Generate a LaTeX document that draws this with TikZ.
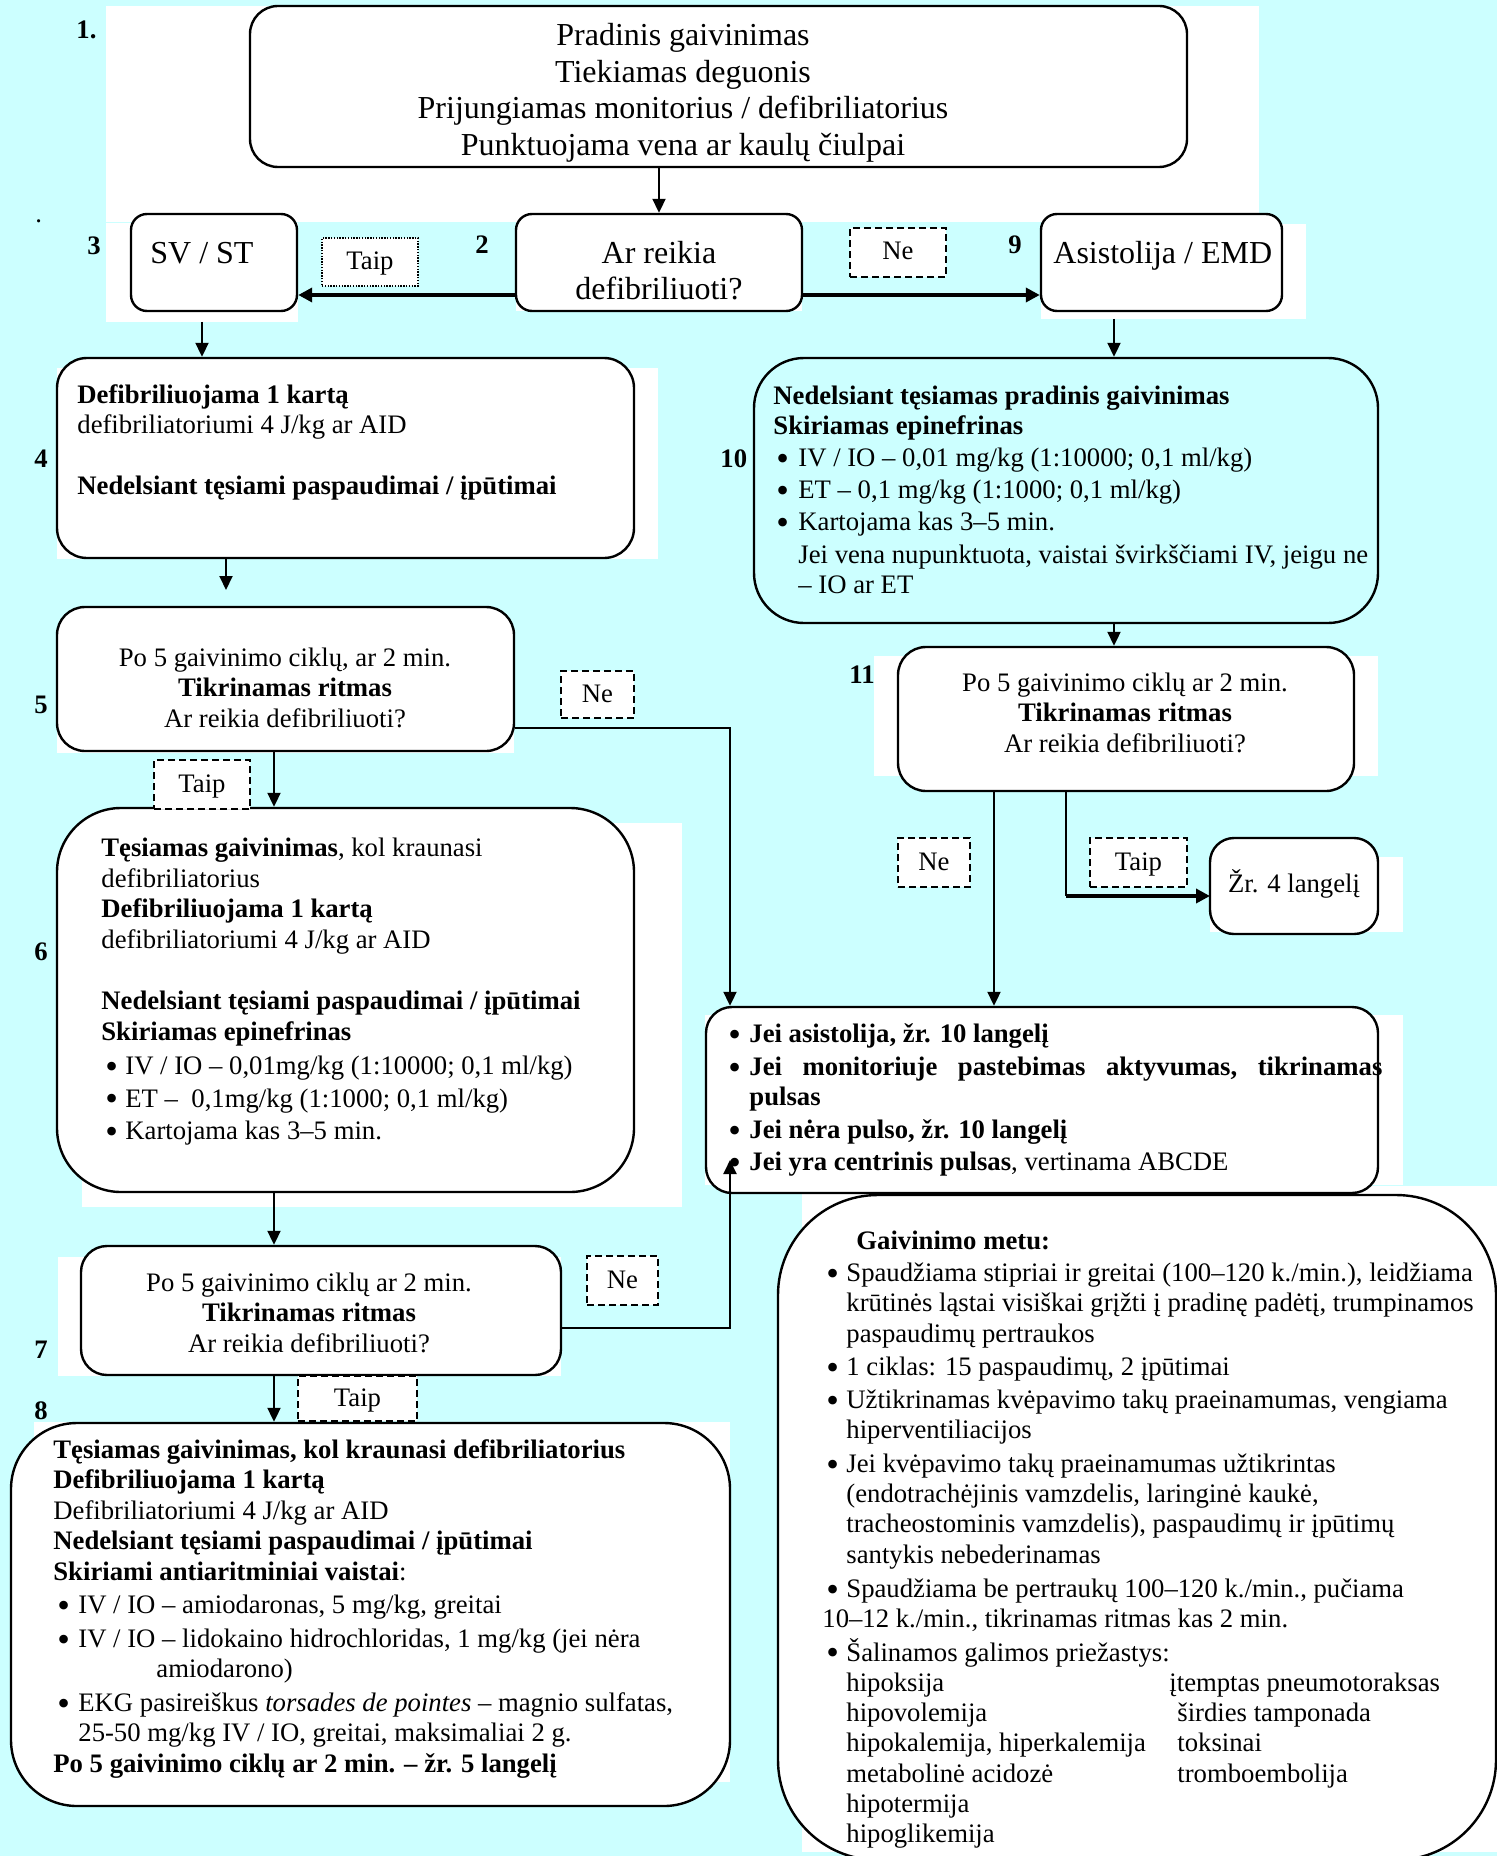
\documentclass[tikz,border=0pt]{standalone}
\usepackage{fontspec}
\setmainfont{Liberation Serif}
\usetikzlibrary{arrows.meta}
\definecolor{bgc}{RGB}{204,255,255}
\newdimen\pxu \pxu=0.5pt
\newcommand\bigbullet{{\fontsize{18pt}{18pt}\selectfont\raisebox{-1.9pt}{•}}}
\newcommand\bul[2]{\hspace*{#1\pxu}\makebox[#2\pxu][l]{\bigbullet}}
\lineskiplimit=-100pt
\begin{document}
\begin{tikzpicture}[x=0.5pt,y=-0.5pt,
  box/.style={draw,line width=1.2pt,fill=white,inner sep=0},
  lblbox/.style={draw,line width=1pt,dash pattern=on 3.5pt off 2pt,fill=white,inner sep=0,text height=9pt,text depth=1.5pt,font=\fontsize{13.35pt}{15pt}\selectfont},
  dotbox/.style={draw,line width=0.7pt,dash pattern=on 0.7pt off 0.7pt,fill=white,inner sep=0,text height=9pt,text depth=1.5pt,font=\fontsize{13.35pt}{15pt}\selectfont},
  conn/.style={line width=1pt,-{Triangle[length=7pt,width=6.5pt]}},
  thickconn/.style={line width=2pt,-{Triangle[length=7pt,width=7pt]}},
  num/.style={font=\fontsize{13.35pt}{15pt}\selectfont\bfseries,anchor=base west,inner sep=0},
  body/.style={font=\fontsize{13.35pt}{15.25pt}\selectfont,inner sep=0,align=left,anchor=north west},
  cbody/.style={font=\fontsize{13.35pt}{15.25pt}\selectfont,inner sep=0,align=center,anchor=north},
  big/.style={font=\fontsize{16pt}{18.35pt}\selectfont,inner sep=0},
]
\useasboundingbox (0,0) rectangle (1497,1856);
\clip (0,0) rectangle (1497,1856);
\fill[bgc] (0,0) rectangle (1497,1856);
% white backgrounds of the text frames
\fill[white] (106,6) rectangle (1259,222);
\fill[white] (106,223.5) rectangle (298,322);
\fill[white] (516,214) rectangle (802,311);
\fill[white] (1041,224.5) rectangle (1306,319);
\fill[white] (57,368) rectangle (658,559);
\fill[white] (57,633) rectangle (514,753);
\fill[white] (82,823) rectangle (682,1207);
\fill[white] (58,1257) rectangle (561,1376);
\fill[white] (34,1422) rectangle (730,1782);
\fill[white] (874,656) rectangle (1378,776);
\fill[white] (1210,857) rectangle (1403,932);
\fill[white] (705,1015) rectangle (1403,1185);
\fill[white] (802,1186) rectangle (1497,1852);

% boxes
\node[box,rounded corners=14pt,minimum width=468.5pt,minimum height=80.5pt] (b1) at (718.5,86.5) {};
\node[box,rounded corners=8pt,minimum width=83pt,minimum height=48.5pt] (b3) at (214,262.5) {};
\node[box,rounded corners=8pt,minimum width=143pt,minimum height=48.5pt] (b2) at (659,262.5) {};
\node[box,rounded corners=8pt,minimum width=120.5pt,minimum height=48.5pt] (b9) at (1161.5,262.5) {};
\node[box,rounded corners=15pt,minimum width=288.5pt,minimum height=100pt] (b4) at (345.5,458) {};
\node[box,rounded corners=14pt,minimum width=228.5pt,minimum height=72pt] (b5) at (285.5,679) {};
\node[box,rounded corners=32pt,minimum width=288.5pt,minimum height=192pt] (b6) at (345.5,1000) {};
\node[box,rounded corners=13pt,minimum width=240pt,minimum height=64.5pt] (b7) at (321,1310.5) {};
\node[box,rounded corners=33pt,minimum width=359.5pt,minimum height=191.5pt] (b8) at (370.5,1614.5) {};
\node[box,fill=bgc,rounded corners=25pt,minimum width=312pt,minimum height=132.5pt] (b10) at (1066,490.5) {};
\node[box,rounded corners=14pt,minimum width=228pt,minimum height=72pt] (b11) at (1126,719) {};
\node[box,rounded corners=12pt,minimum width=84pt,minimum height=48pt] (bzr) at (1294,886) {};
\node[box,rounded corners=13pt,minimum width=336pt,minimum height=93pt] (bj) at (1042,1100) {};
\node[box,rounded corners=50pt,minimum width=359pt,minimum height=332.5pt] (bg) at (1137,1527.5) {};

% Taip / Ne labels
\node[dotbox,minimum width=48pt,minimum height=24pt] (lt1) at (370,262) {Taip};
\node[lblbox,minimum width=48pt,minimum height=24.5pt] (ln1) at (898,252.5) {Ne};
\node[lblbox,minimum width=36.5pt,minimum height=23.5pt] (ln5) at (597.5,694.5) {Ne};
\node[lblbox,minimum width=48pt,minimum height=24.5pt] (lt5) at (202,784.5) {Taip};
\node[lblbox,minimum width=35.5pt,minimum height=24.5pt] (ln7) at (622.5,1280.5) {Ne};
\node[lblbox,minimum width=59.5pt,minimum height=22.5pt] (lt7) at (357.5,1398.5) {Taip};
\node[lblbox,minimum width=36pt,minimum height=24.5pt] (ln11) at (934,862.5) {Ne};
\node[lblbox,minimum width=48.5pt,minimum height=24.5pt] (lt11) at (1138.5,862.5) {Taip};

% connectors
\coordinate (s3) at (202,322);
\coordinate (s9) at (1114,319);
\coordinate (e45) at (226,590);
\coordinate (v274) at (274,0);
\coordinate (v730) at (730,0);
\coordinate (up7) at (730,1160);
\coordinate (v994) at (994,0);
\coordinate (v1066) at (1066,0);
\coordinate (zr) at (1210,896);
\draw[conn] (b1.south -| b2.north) -- (b2.north);
\draw[thickconn] ([yshift=-16.25pt]b2.west) -- ([yshift=-16.25pt]b3.east);
\draw[thickconn] ([yshift=-16.25pt]b2.east) -- ([yshift=-16.25pt]b9.west);
\draw[conn] (s3) -- (s3 |- b4.north);
\draw[conn] (s9) -- (s9 |- b10.north);
\draw[conn] (b4.south -| e45) -- (e45);
\draw[conn] (b5.south -| v274) -- (b6.north -| v274);
\draw[conn] (b6.south -| v274) -- (b7.north -| v274);
\draw[conn] (b7.south -| v274) -- (b8.north -| v274);
\draw[conn] ([yshift=-24.5pt]b5.east) -| (bj.north -| v730);
\draw[conn] ([yshift=-8.5pt]b7.east) -| (up7);
\draw[conn] (b10.south -| s9) -- (b11.north -| s9);
\draw[conn] (b11.south -| v994) -- (bj.north -| v994);
\draw[line width=1pt] (b11.south -| v1066) -- (v1066 |- zr);
\draw[thickconn] (v1066 |- zr) -- (zr);

% numbers
\node[num] (n1) at (76,39) {1.};
\node[inner sep=0,anchor=base west,font=\fontsize{13.35pt}{15pt}\selectfont] (ndot) at (35,223) {.};
\node[num] (n3) at (87,255) {3};
\node[num] (n2) at (475,254) {2};
\node[num] (n9) at (1008,254) {9};
\node[num] (n4) at (34,467) {4};
\node[num] (n10) at (720,467) {10};
\node[num] (n5) at (34,713) {5};
\node[num] (n6) at (34,960) {6};
\node[num] (n7) at (34,1358) {7};
\node[num] (n8) at (34,1419) {8};
\node[num] (n11) at (849,683) {11};

% texts
\node[big,align=center,anchor=north] (t1) at (683,19.3) {\strut Pradinis gaivinimas\\Tiekiamas deguonis\\Prijungiamas monitorius / defibriliatorius\\Punktuojama vena ar kaulų čiulpai};
\node[big,font=\fontsize{16pt}{18pt}\selectfont,align=center,anchor=north] (t2) at (659,237.8) {\strut Ar reikia\\defibriliuoti?};
\node[big,anchor=base west] (t3) at (150,264) {SV / ST};
\node[big,anchor=base west] (t9) at (1053,264) {Asistolija / EMD};

\node[body] (t4) at (77,381.65) {\strut\textbf{Defibriliuojama 1 kartą}\\
defibriliatoriumi 4 J/kg ar AID\\[15.25pt]
\textbf{Nedelsiant tęsiami paspaudimai / įpūtimai}};

\node[cbody] (t5) at (285,644.65) {\strut Po 5 gaivinimo ciklų, ar 2 min.\\\textbf{Tikrinamas ritmas}\\Ar reikia defibriliuoti?};

\node[body,font=\fontsize{13.35pt}{15.35pt}\selectfont] (t6) at (101,834.5) {\strut\textbf{Tęsiamas gaivinimas}, kol kraunasi\\
defibriliatorius\\
\textbf{Defibriliuojama 1 kartą}\\
defibriliatoriumi 4 J/kg ar AID\\[15.35pt]
\textbf{Nedelsiant tęsiami paspaudimai / įpūtimai}\\
\textbf{Skiriamas epinefrinas}\\[1.5pt]
\bul{4}{20}IV / IO – 0,01mg/kg (1:10000; 0,1 ml/kg)\\[1pt]
\bul{4}{20}ET –~~0,1mg/kg (1:1000; 0,1 ml/kg)\\[1pt]
\bul{4}{20}Kartojama kas 3–5 min.};

\node[cbody] (t7) at (309,1269.65) {\strut Po 5 gaivinimo ciklų ar 2 min.\\\textbf{Tikrinamas ritmas}\\Ar reikia defibriliuoti?};

\node[body] (t8) at (53,1436.65) {\strut\textbf{Tęsiamas gaivinimas, kol kraunasi defibriliatorius}\\
\textbf{Defibriliuojama 1 kartą}\\
Defibriliatoriumi 4 J/kg ar AID\\
\textbf{Nedelsiant tęsiami paspaudimai / įpūtimai}\\
\textbf{Skiriami antiaritminiai vaistai}:\\[1.5pt]
\bul{4}{21}IV / IO – amiodaronas, 5 mg/kg, greitai\\[1.5pt]
\bul{4}{21}IV / IO – lidokaino hidrochloridas, 1 mg/kg (jei nėra\\
\hspace*{103\pxu}amiodarono)\\[1.5pt]
\bul{4}{21}EKG pasireiškus \textit{torsades de pointes} – magnio sulfatas,\\
\hspace*{25\pxu}25-50 mg/kg IV / IO, greitai, maksimaliai 2 g.\\
\textbf{Po 5 gaivinimo ciklų ar 2 min. – žr. 5 langelį}};

\node[body,font=\fontsize{13.35pt}{15pt}\selectfont] (t10) at (773,383) {\strut\textbf{Nedelsiant tęsiamas pradinis gaivinimas}\\
\textbf{Skiriamas epinefrinas}\\[1pt]
\bul{3}{22}IV / IO – 0,01 mg/kg (1:10000; 0,1 ml/kg)\\[1pt]
\bul{3}{22}ET – 0,1 mg/kg (1:1000; 0,1 ml/kg)\\[1pt]
\bul{3}{22}Kartojama kas 3–5 min.\\[1.5pt]
\hspace*{25\pxu}Jei vena nupunktuota, vaistai švirkščiami IV, jeigu ne\\
\hspace*{25\pxu}– IO ar ET};

\node[cbody] (t11) at (1125,669.65) {\strut Po 5 gaivinimo ciklų ar 2 min.\\\textbf{Tikrinamas ritmas}\\Ar reikia defibriliuoti?};

\node[inner sep=0,anchor=base,font=\fontsize{13.35pt}{15pt}\selectfont] (tzr) at (1294,892) {Žr. 4 langelį};

\node[body] (tj) at (728,1020.65) {\strut\bul{0}{21}\textbf{Jei asistolija, žr. 10 langelį}\\[1.25pt]
\bul{0}{21}\hbox to 633\pxu{\bfseries Jei\hfill monitoriuje\hfill pastebimas\hfill aktyvumas,\hfill tikrinamas}\\
\hspace*{21\pxu}\textbf{pulsas}\\[1.25pt]
\bul{0}{21}\textbf{Jei nėra pulso, žr. 10 langelį}\\[0.75pt]
\bul{0}{21}\textbf{Jei yra centrinis pulsas}, vertinama ABCDE};

\node[body,font=\fontsize{13.35pt}{15.15pt}\selectfont] (tg) at (822,1227.8) {\strut\hspace*{34\pxu}\textbf{Gaivinimo metu:}\\[0.85pt]
\bul{4}{20}Spaudžiama stipriai ir greitai (100–120 k./min.), leidžiama\\
\hspace*{24\pxu}krūtinės ląstai visiškai grįžti į pradinę padėtį, trumpinamos\\
\hspace*{24\pxu}paspaudimų pertraukos\\[1.5pt]
\bul{4}{20}1 ciklas: 15 paspaudimų, 2 įpūtimai\\[1.5pt]
\bul{4}{20}Užtikrinamas kvėpavimo takų praeinamumas, vengiama\\
\hspace*{24\pxu}hiperventiliacijos\\[1.5pt]
\bul{4}{20}Jei kvėpavimo takų praeinamumas užtikrintas\\
\hspace*{24\pxu}(endotrachėjinis vamzdelis, laringinė kaukė,\\
\hspace*{24\pxu}tracheostominis vamzdelis), paspaudimų ir įpūtimų\\
\hspace*{24\pxu}santykis nebederinamas\\[2pt]
\bul{4}{20}Spaudžiama be pertraukų 100–120 k./min., pučiama\\
10–12 k./min., tikrinamas ritmas kas 2 min.\\[1.5pt]
\bul{4}{20}Šalinamos galimos priežastys:\\
\hspace*{24\pxu}\makebox[323\pxu][l]{hipoksija}įtemptas pneumotoraksas\\
\hspace*{24\pxu}\makebox[331\pxu][l]{hipovolemija}širdies tamponada\\
\hspace*{24\pxu}\makebox[331\pxu][l]{hipokalemija, hiperkalemija}toksinai\\
\hspace*{24\pxu}\makebox[331\pxu][l]{metabolinė acidozė}tromboembolija\\
\hspace*{24\pxu}hipotermija\\
\hspace*{24\pxu}hipoglikemija};
\end{tikzpicture}
\end{document}
